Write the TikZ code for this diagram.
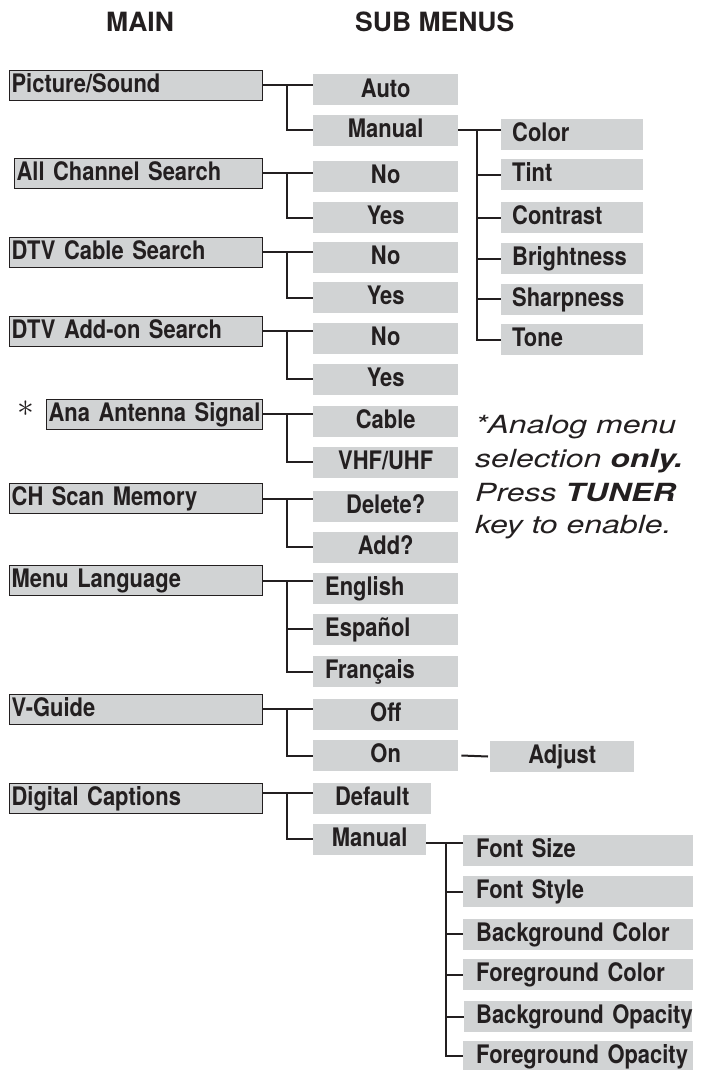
\documentclass[tikz,border=0pt]{standalone}
\usepackage{graphicx}
\usepackage{fontspec}
\setmainfont{TeX Gyre Heros}
\newfontfamily\labfont[FakeStretch=0.86]{TeX Gyre Heros}
\newfontfamily\notefont[FakeStretch=1.28]{TeX Gyre Heros}
\definecolor{boxgray}{RGB}{209,211,212}
\definecolor{ink}{RGB}{35,31,32}
\tikzset{
  lab/.style={font=\labfont\bfseries\fontsize{25.5}{25.5}\selectfont, text=ink},
  mainbox/.style={lab, draw=ink, line width=0.8pt, fill=boxgray, anchor=east,
    minimum height=30pt, inner xsep=2pt, inner ysep=0pt, text height=18.5pt,
    text depth=4pt, align=left, text width=#1},
  subbox/.style={lab, fill=boxgray, anchor=west, minimum height=31pt,
    inner ysep=0pt, text height=18.5pt, text depth=4pt},
  subc/.style={subbox, inner xsep=0pt, text width=#1, align=center},
  subl/.style n args={2}{subbox, inner xsep=0pt, text width=#2, align=left,
    execute at begin node={\hspace*{#1}}},
  conn/.style={draw=ink, line width=2pt},
  hdr/.style={font=\bfseries\fontsize{26.5}{26.5}\selectfont, text=ink, inner sep=0pt, anchor=base west},
  note/.style={font=\notefont\itshape\fontsize{25}{25}\selectfont, text=ink, inner sep=0pt, anchor=base west},
}
\begin{document}
\begin{tikzpicture}[x=1pt,y=-1pt]
\useasboundingbox (0,0) rectangle (705,1070);

% headers
\node[hdr] (hmain) at (106,32) {MAIN};
\node[hdr] (hsub) at (355,32) {SUB MENUS};

% main boxes
\node[mainbox=249pt] (ps)  at (263,85)    {Picture/Sound};
\node[mainbox=244pt] (acs) at (263,173)   {All Channel Search};
\node[mainbox=249pt] (dcs) at (263,252)   {DTV Cable Search};
\node[mainbox=249pt] (das) at (263,331)   {DTV Add-on Search};
\node[mainbox=212pt] (ana) at (263,414)   {Ana Antenna Signal};
\node[mainbox=249pt] (chs) at (263,498.5) {CH Scan Memory};
\node[mainbox=249pt] (ml)  at (263,580.5) {Menu Language};
\node[mainbox=249pt] (vg)  at (263,709)   {V-Guide};
\node[mainbox=249pt] (dc)  at (263,798)   {Digital Captions};

\node[text=ink, inner sep=0pt] (ast) at (26,409) {\scalebox{1.35}{\fontsize{24.88}{25}\selectfont$\ast$}};

% sub boxes
\node[subc=145pt] (auto) at (313,90)    {Auto};
\node[subc=145pt] (man)  at (313,130.5) {Manual};
\node[subc=145pt] (no1)  at (313,176.5) {No};
\node[subc=145pt] (yes1) at (313,217.5) {Yes};
\node[subc=145pt] (no2)  at (313,257.5) {No};
\node[subc=145pt] (yes2) at (313,297.5) {Yes};
\node[subc=145pt] (no3)  at (313,338.5) {No};
\node[subc=145pt] (yes3) at (313,379)   {Yes};
\node[subc=145pt] (cab)  at (313,421)   {Cable};
\node[subc=145pt] (vhf)  at (313,462)   {VHF/UHF};
\node[subc=145pt] (del)  at (313,506.5) {Delete?};
\node[subc=145pt] (add)  at (313,547)   {Add?};
\node[subl={12pt}{145pt}] (eng) at (313,588)   {English};
\node[subl={12pt}{145pt}] (esp) at (313,629)   {Español};
\node[subl={12pt}{145pt}] (fra) at (313,671.5) {Français};
\node[subc=145pt] (off)  at (313,714)   {Off};
\node[subc=145pt] (on)   at (313,755.5) {On};
\node[subc=118pt] (def)  at (313,798.5) {Default};
\node[subc=113pt] (man2) at (313,839)   {Manual};

% third level (picture)
\node[subl={11pt}{142pt}] (col) at (501,134.5) {Color};
\node[subl={11pt}{142pt}] (tin) at (501,174.5) {Tint};
\node[subl={11pt}{142pt}] (con) at (501,217.5) {Contrast};
\node[subl={11pt}{142pt}] (bri) at (501,258.5) {Brightness};
\node[subl={11pt}{142pt}] (sha) at (501,299)   {Sharpness};
\node[subl={11pt}{142pt}] (ton) at (501,339.5) {Tone};

% adjust
\node[subc=144pt] (adj) at (490,756.5) {Adjust};

% third level (captions)
\node[subl={13pt}{230pt}] (fsz) at (463,850.5)  {\mbox{Font Size}};
\node[subl={13pt}{230pt}] (fst) at (463,891.5)  {\mbox{Font Style}};
\node[subl={13pt}{230pt}] (bgc) at (463,934)    {\mbox{Background Color}};
\node[subl={13pt}{230pt}] (fgc) at (463,974.5)  {\mbox{Foreground Color}};
\node[subl={12pt}{228pt}] (bgo) at (464,1016.5) {\mbox{Background Opacity}};
\node[subl={13pt}{230pt}] (fgo) at (463,1056)   {\mbox{Foreground Opacity}};

% note
\node[note] (n1) at (475,433) {*Analog menu};
\node[note] (n2) at (475,467) {selection \textbf{only.}};
\node[note] (n3) at (475,501) {Press \textbf{TUNER}};
\node[note] (n4) at (475,533) {key to enable.};

% branch x positions
\coordinate (bx) at (287,0);
\coordinate (bx2) at (477,0);
\coordinate (bx3) at (446,0);

% main -> sub connectors
\draw[conn] (ps.east) -- (ps.east -| auto.west);
\draw[conn] (ps.east -| bx) |- (man.west);
\draw[conn] (acs.east) -- (acs.east -| no1.west);
\draw[conn] (acs.east -| bx) |- (yes1.west);
\draw[conn] (dcs.east) -- (dcs.east -| no2.west);
\draw[conn] (dcs.east -| bx) |- (yes2.west);
\draw[conn] (das.east) -- (das.east -| no3.west);
\draw[conn] (das.east -| bx) |- (yes3.west);
\draw[conn] (ana.east) -- (ana.east -| cab.west);
\draw[conn] (ana.east -| bx) |- (vhf.west);
\draw[conn] (chs.east) -- (chs.east -| del.west);
\draw[conn] (chs.east -| bx) |- (add.west);
\draw[conn] (ml.east) -- (ml.east -| eng.west);
\draw[conn] (ml.east -| bx) |- (fra.west);
\draw[conn] (esp.west -| bx) -- (esp.west);
\draw[conn] (vg.east) -- (vg.east -| off.west);
\draw[conn] (vg.east -| bx) |- (on.west);
\coordinate (j2) at ([yshift=5pt]dc.east);
\draw[conn] (j2) -- (j2 -| def.west);
\draw[conn] (j2 -| bx) |- (man2.west);

% manual -> picture settings
\draw[conn] (man.east) -- (man.east -| col.west);
\draw[conn] (man.east -| bx2) |- (ton.west);
\draw[conn] (tin.west -| bx2) -- (tin.west);
\draw[conn] (con.west -| bx2) -- (con.west);
\draw[conn] (bri.west -| bx2) -- (bri.west);
\draw[conn] (sha.west -| bx2) -- (sha.west);

% on -> adjust
\draw[conn] ([xshift=3pt]on.east) -- ([xshift=-2pt]adj.west);

% manual -> caption settings
\coordinate (j3) at ([yshift=-4pt]man2.east);
\draw[conn] (j3) -- (j3 -| fsz.west);
\draw[conn] (j3 -| bx3) |- (fgo.west);
\draw[conn] (fst.west -| bx3) -- (fst.west);
\draw[conn] (bgc.west -| bx3) -- (bgc.west);
\draw[conn] (fgc.west -| bx3) -- (fgc.west);
\draw[conn] (bgo.west -| bx3) -- (bgo.west);
\end{tikzpicture}
\end{document}
